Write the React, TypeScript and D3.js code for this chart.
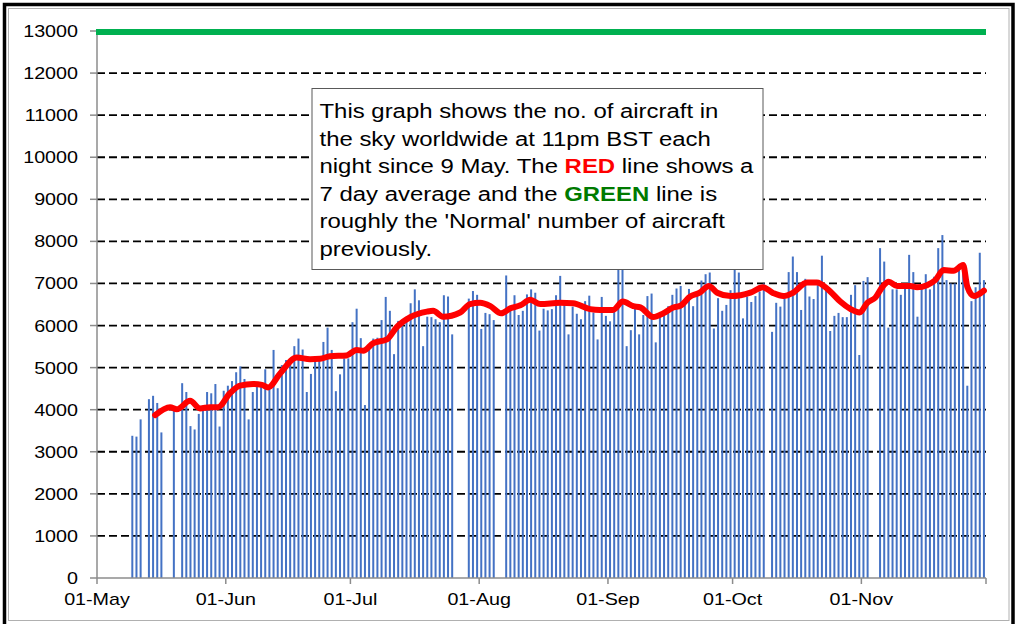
import React, { useRef, useEffect } from "react";
import * as d3 from "d3";

// aircraft in the sky at 11pm BST, one value per night from 9 May (0 = no reading)
const firstNight = "2020-05-09";
const aircraft = [
  3380, 3360, 3770, 0, 4250, 4330, 4160, 3460, 0, 0,
  4010, 0, 4630, 4420, 3610, 3530, 3900, 4100, 4420, 4390,
  4610, 3600, 4450, 4570, 4680, 4890, 5030, 4730, 3770, 4420,
  4590, 4590, 4960, 4500, 5420, 4510, 5060, 5180, 5200, 5510,
  5690, 5430, 4420, 4850, 5180, 5180, 5610, 5950, 5420, 4440,
  4840, 5220, 5220, 6080, 6400, 5700, 4110, 5420, 5690, 5710,
  6130, 6680, 6350, 5320, 6110, 6130, 6210, 6530, 6860, 6600,
  5510, 6210, 6200, 6150, 6080, 6720, 6690, 5790, 0, 0,
  0, 6640, 6820, 6730, 5920, 6300, 6270, 6130, 0, 0,
  7190, 6400, 6720, 6250, 6350, 6740, 6860, 6780, 5880, 6400,
  6360, 6390, 6720, 7180, 6490, 5790, 6450, 6280, 6150, 6580,
  6710, 6310, 5670, 6680, 6230, 6100, 6370, 7400, 7400, 5510,
  5890, 6410, 5790, 6250, 6700, 6760, 5600, 6210, 6250, 6460,
  6730, 6880, 6940, 6570, 6870, 6460, 6810, 7070, 7220, 7260,
  5930, 6650, 6350, 6490, 6840, 7400, 7260, 6170, 6690, 6560,
  6700, 6810, 7000, 0, 5850, 6540, 6450, 6650, 7270, 7640,
  7270, 6370, 7110, 6690, 6630, 6960, 7660, 6880, 5870, 6230,
  6300, 6200, 6200, 6730, 6960, 5300, 7060, 7150, 0, 0,
  7840, 7520, 5950, 6860, 6860, 6730, 6880, 7680, 7270, 6210,
  6880, 7220, 6860, 7160, 7840, 8150, 7080, 7000, 7000, 7320,
  7300, 4570, 6580, 6910, 7730, 7080,
];

// 7 day average (days after 1 May, value)
const avgDay = [
  14.0, 17.6, 19.2, 22.4, 24.8, 27.2, 29.1, 32.0, 34.4, 37.6,
  39.7, 41.2, 44.1, 48.1, 51.3, 53.7, 56.1, 60.1, 62.5, 64.1,
  66.5, 69.8, 72.2, 75.4, 79.4, 80.9, 83.3, 87.4, 89.8, 92.2,
  94.7, 97.3, 99.5, 101.9, 104.3, 106.7, 111.5, 114.6, 118.7, 121.1,
  124.2, 126.6, 129.1, 130.8, 133.9, 136.3, 138.7, 140.4, 142.8, 145.1,
  147.3, 149.3, 152.5, 154.9, 157.3, 160.3, 162.8, 165.2, 167.6, 170.9,
  173.3, 175.7, 176.5, 178.9, 181.4, 183.6, 185.4, 187.4, 189.0, 190.6,
  192.6, 195.8, 197.4, 199.8, 201.8, 203.8, 206.2, 208.5, 209.5, 211.1,
  213.5,
];
const avgValue = [
  3870, 4060, 4010, 4210, 4030, 4060, 4060, 4390, 4570, 4610,
  4590, 4530, 4860, 5240, 5200, 5210, 5270, 5290, 5420, 5400,
  5580, 5670, 5970, 6200, 6330, 6350, 6210, 6310, 6510, 6540,
  6460, 6290, 6410, 6480, 6610, 6510, 6540, 6530, 6390, 6370,
  6370, 6570, 6460, 6430, 6200, 6290, 6430, 6470, 6690, 6780,
  6940, 6780, 6700, 6720, 6780, 6910, 6770, 6700, 6780, 7020,
  7020, 6880, 6810, 6570, 6390, 6310, 6540, 6670, 6910, 7040,
  6940, 6940, 6910, 6960, 7080, 7320, 7300, 7440, 6920, 6700,
  6830,
];

const normalLevel = 13000;
const yTicks = [0, 1000, 2000, 3000, 4000, 5000, 6000, 7000, 8000, 9000, 10000, 11000, 12000, 13000];
const monthStarts = ["2020-05-01", "2020-06-01", "2020-07-01", "2020-08-01", "2020-09-01", "2020-10-01", "2020-11-01", "2020-12-01"];
const monthLabels = ["01-May", "01-Jun", "01-Jul", "01-Aug", "01-Sep", "01-Oct", "01-Nov", ""];

const W = 1018, H = 624;
const font = "'Liberation Sans', Arial, sans-serif";

const AircraftChart = () => {
  const ref = useRef(null);

  useEffect(() => {
    const svg = d3.select(ref.current);
    svg.selectAll("*").remove();

    const left = 97, right = 986, top = 31, bottom = 578;
    const parse = d3.utcParse("%Y-%m-%d");
    const start = parse(monthStarts[0]);
    const end = parse(monthStarts[monthStarts.length - 1]);
    const x = d3.scaleUtc([start, end], [left, right]);
    const y = d3.scaleLinear([0, 13000], [bottom, top]);
    const dayW = x(d3.utcDay.offset(start, 1)) - x(start);

    // frames
    svg.append("rect").attr("x", 0).attr("y", 0).attr("width", W).attr("height", H).attr("fill", "#fff");
    svg.append("rect").attr("x", 4.5).attr("y", 4.5).attr("width", 1008.5).attr("height", 630)
      .attr("fill", "none").attr("stroke", "#000").attr("stroke-width", 3.5);
    svg.append("rect").attr("x", 8.5).attr("y", 8.5).attr("width", 1000.5).attr("height", 612)
      .attr("fill", "none").attr("stroke", "#b0b0b0").attr("stroke-width", 1);

    // gridlines
    svg.append("g").selectAll("line")
      .data(yTicks.filter(t => t > 0 && t < normalLevel))
      .join("line")
      .attr("x1", left).attr("x2", right)
      .attr("y1", d => y(d)).attr("y2", d => y(d))
      .attr("stroke", "#000").attr("stroke-width", 1.8)
      .attr("stroke-dasharray", "8,4");

    // bars
    const first = parse(firstNight);
    const bars = aircraft.map((v, i) => ({ date: d3.utcDay.offset(first, i), v })).filter(d => d.v > 0);
    svg.append("g").selectAll("rect")
      .data(bars)
      .join("rect")
      .attr("x", d => x(d.date) + dayW / 2 - 1)
      .attr("width", 2)
      .attr("y", d => y(d.v))
      .attr("height", d => y(0) - y(d.v))
      .attr("fill", "#4472c4");

    // axes
    const axisCol = "#8c8c8c";
    svg.append("line").attr("x1", left).attr("x2", left).attr("y1", top).attr("y2", bottom)
      .attr("stroke", axisCol).attr("stroke-width", 1.5);
    svg.append("line").attr("x1", left).attr("x2", right).attr("y1", bottom).attr("y2", bottom)
      .attr("stroke", axisCol).attr("stroke-width", 1.5);

    svg.append("g").selectAll("line")
      .data(yTicks)
      .join("line")
      .attr("x1", left - 7).attr("x2", left)
      .attr("y1", d => y(d)).attr("y2", d => y(d))
      .attr("stroke", axisCol).attr("stroke-width", 1.5);

    svg.append("g").selectAll("text")
      .data(yTicks)
      .join("text")
      .attr("transform", d => `translate(78,${y(d) + 6}) scale(1.16,1)`)
      .attr("text-anchor", "end")
      .attr("font-family", font).attr("font-size", 17).attr("fill", "#000")
      .text(d => d);

    const months = monthStarts.map((m, i) => ({ date: parse(m), label: monthLabels[i] }));
    svg.append("g").selectAll("line")
      .data(months)
      .join("line")
      .attr("x1", d => x(d.date)).attr("x2", d => x(d.date))
      .attr("y1", bottom).attr("y2", bottom + 6)
      .attr("stroke", axisCol).attr("stroke-width", 1.5);

    svg.append("g").selectAll("text")
      .data(months)
      .join("text")
      .attr("transform", d => `translate(${x(d.date)},605) scale(1.16,1)`)
      .attr("text-anchor", "middle")
      .attr("font-family", font).attr("font-size", 17).attr("fill", "#000")
      .text(d => d.label);

    // normal level
    svg.append("line")
      .attr("x1", left - 1).attr("x2", right)
      .attr("y1", y(normalLevel) + 1).attr("y2", y(normalLevel) + 1)
      .attr("stroke", "#00b050").attr("stroke-width", 6);

    // 7 day average
    const line = d3.line()
      .x(d => x(d3.utcHour.offset(start, Math.round(d[0] * 24))))
      .y(d => y(d[1]))
      .curve(d3.curveMonotoneX);
    svg.append("path")
      .attr("d", line(avgDay.map((d, i) => [d, avgValue[i]])))
      .attr("fill", "none").attr("stroke", "#ff0000").attr("stroke-width", 6)
      .attr("stroke-linejoin", "round").attr("stroke-linecap", "round");

    // note box
    const bx = 312, by = 88.5;
    svg.append("rect").attr("x", bx).attr("y", by).attr("width", 451).attr("height", 181)
      .attr("fill", "#fff").attr("stroke", "#595959").attr("stroke-width", 1);

    const note = [
      [["This graph shows the no. of aircraft in"]],
      [["the sky worldwide at 11pm BST each"]],
      [["night since 9 May. The "], ["RED", "#ff0000"], [" line shows a"]],
      [["7 day average and the "], ["GREEN", "#007a00"], [" line is"]],
      [["roughly the 'Normal' number of aircraft"]],
      [["previously."]],
    ];
    const t = svg.append("text")
      .attr("transform", `translate(${bx + 7.5},0) scale(1.14,1)`)
      .attr("font-family", font).attr("font-size", 21).attr("fill", "#000");
    note.forEach((parts, i) => {
      parts.forEach((p, j) => {
        const s = t.append("tspan").text(p[0]).style("white-space", "pre");
        if (j === 0) s.attr("x", 0).attr("y", 118.3 + i * 27.5);
        if (p[1]) s.attr("fill", p[1]).attr("font-weight", "bold");
      });
    });
    t.attr("xml:space", "preserve");
  }, []);

  return <svg ref={ref} width={W} height={H} style={{ position: "absolute", left: 0, top: 0 }} />;
};

export default function App() {
  return <AircraftChart />;
}
